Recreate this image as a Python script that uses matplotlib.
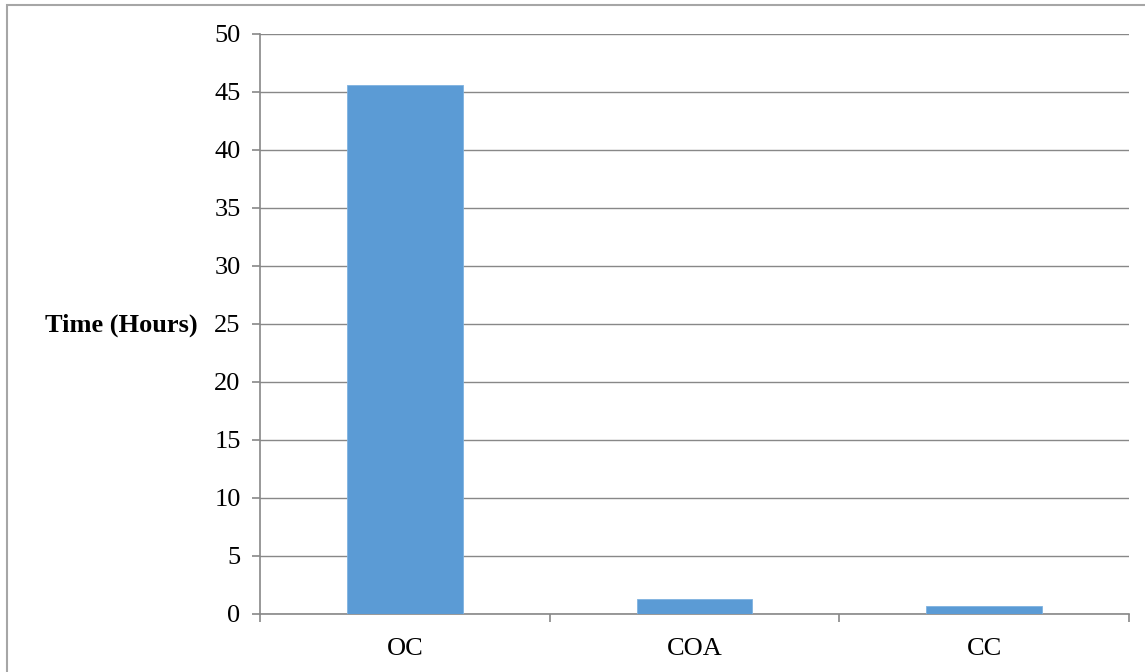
import numpy as np
import matplotlib.pyplot as plt
from matplotlib.patches import Rectangle

categories = ['OC', 'COA', 'CC']
hours = [45.6, 1.27, 0.69]

plt.rcParams['font.family'] = ['Liberation Serif', 'DejaVu Serif']

W, H = 1145, 672
fig = plt.figure(figsize=(W / 100, H / 100), dpi=100)
ax = fig.add_axes([260 / W, (H - 614) / H, (1129 - 260) / W, (614 - 34) / H])

# outer frame (only left and top visible in the picture)
fig.patches.append(Rectangle((7 / W, -0.5), 1.5, (H - 5) / H + 0.5, transform=fig.transFigure,
                             fill=False, edgecolor='#a6a6a6', linewidth=1.5))

x = np.arange(len(categories))
ax.bar(x, hours, width=0.4, color='#5b9bd5', edgecolor='#7fb2e0', linewidth=0.6, zorder=3)

ax.set_xlim(-0.5, len(categories) - 0.5)
ax.set_ylim(0, 50)
ax.set_yticks(np.arange(0, 51, 5))
ax.yaxis.grid(True, color='#888888', linewidth=1.0, zorder=0)
ax.set_axisbelow(True)

ax.set_xticks(np.arange(-0.5, len(categories), 1.0))
ax.set_xticklabels([])
ax.set_xticks(x, minor=True)
ax.set_xticklabels(categories, minor=True)
ax.tick_params(axis='x', which='major', length=6, width=1.2, color='#888888', direction='out')
ax.tick_params(axis='x', which='minor', length=0, pad=17, labelsize=19)
ax.tick_params(axis='y', length=6, width=1.2, color='#888888', pad=8, labelsize=19)

for s in ['top', 'right']:
    ax.spines[s].set_visible(False)
for s in ['left', 'bottom']:
    ax.spines[s].set_color('#888888')
    ax.spines[s].set_linewidth(1.2)

ax.set_ylabel('Time (Hours)', rotation=0, ha='right', va='center', fontsize=19, fontweight='bold')
ax.yaxis.set_label_coords(-0.072, 0.497)

fig.savefig('out.png', dpi=100)
